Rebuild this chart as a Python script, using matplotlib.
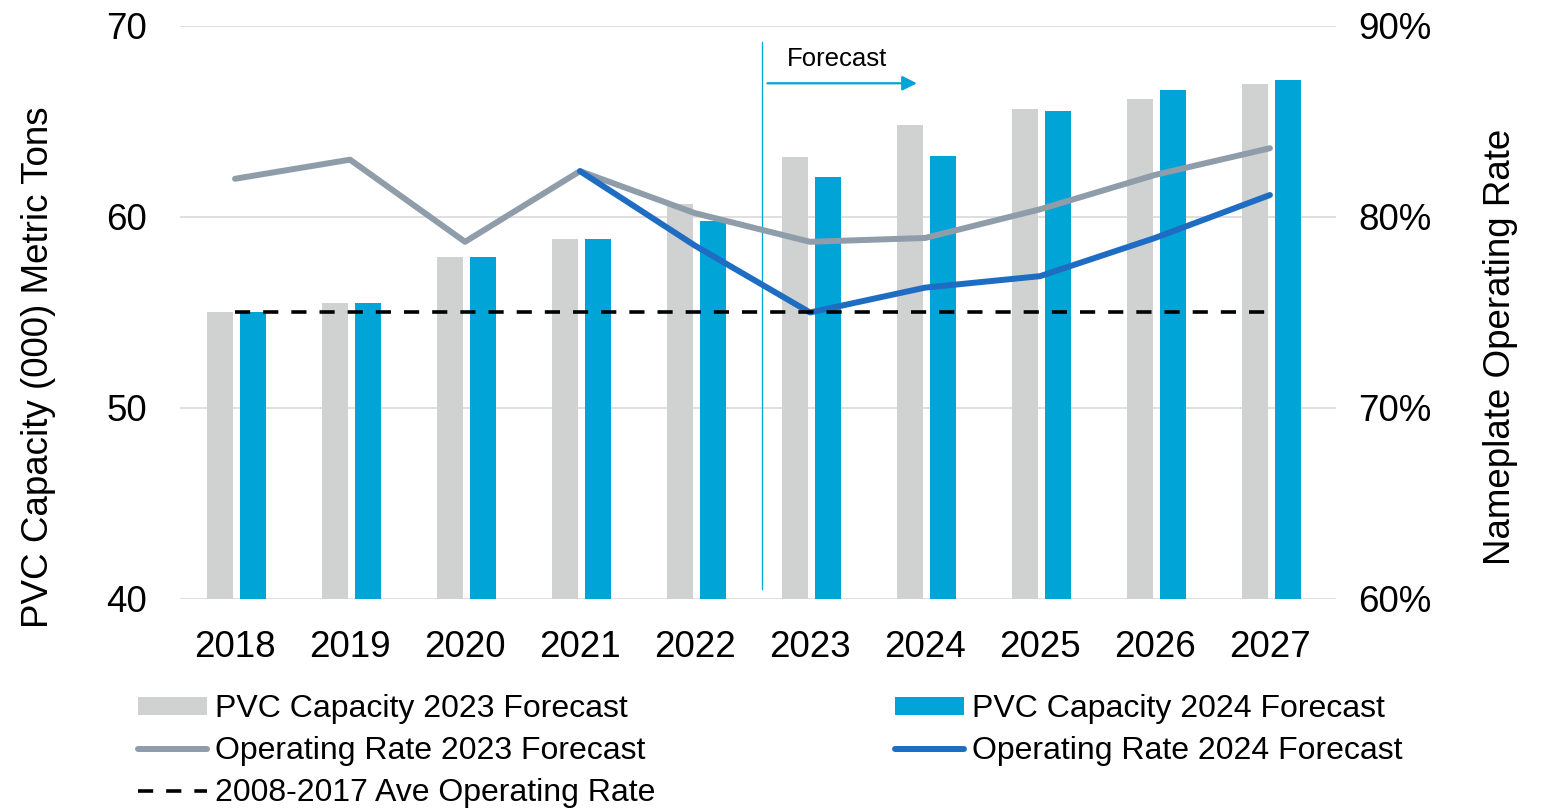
import numpy as np
import matplotlib.pyplot as plt

plt.rcParams["font.family"] = ["Liberation Sans", "DejaVu Sans"]

# Data
years = ["2018", "2019", "2020", "2021", "2022", "2023", "2024", "2025", "2026", "2027"]
capacity_2023 = [55.0, 55.5, 57.9, 58.85, 60.7, 63.15, 64.8, 65.65, 66.2, 66.95]
capacity_2024 = [55.0, 55.5, 57.9, 58.85, 59.8, 62.1, 63.2, 65.55, 66.65, 67.15]
rate_2023 = [82.0, 83.0, 78.7, 82.4, 80.2, 78.7, 78.9, 80.4, 82.2, 83.6]
rate_2024 = [np.nan, np.nan, np.nan, 82.4, 78.5, 75.0, 76.3, 76.9, 78.9, 81.15]
avg_rate = 75.0  # 2008-2017 average operating rate

left_ticks = [40, 50, 60, 70]
right_ticks = [60, 70, 80, 90]

# Colors
COLOR_GRAY_BAR = "#D0D1D1"
COLOR_BLUE_BAR = "#00A4D6"
COLOR_GRAY_LINE = "#8E9DA9"
COLOR_BLUE_LINE = "#1F6DC2"
COLOR_GRID = "#D9D9D9"

x = np.arange(len(years))
bar_w = 0.225
offset = 0.145

fig = plt.figure(figsize=(15.43, 8.09), dpi=100)
ax = fig.add_axes([0.1167, 0.2596, 0.7491, 0.7083])
ax2 = ax.twinx()

b1 = ax.bar(x - offset + 0.015, capacity_2023, width=bar_w, color=COLOR_GRAY_BAR,
            label="PVC Capacity 2023 Forecast")
b2 = ax.bar(x + offset + 0.015, capacity_2024, width=bar_w, color=COLOR_BLUE_BAR,
            label="PVC Capacity 2024 Forecast")

ax.set_ylim(40, 70)
ax.set_xlim(-0.478, 9.574)
ax.set_yticks(left_ticks)
ax.set_xticks(x)
ax.set_xticklabels(years)
ax.grid(axis="y", color=COLOR_GRID, linewidth=1.2)
ax.set_axisbelow(True)

# Forecast divider and arrow
ax.plot([4.583, 4.583], [40.5, 69.15], color=COLOR_BLUE_BAR, linewidth=0.9)
ax.annotate("", xy=(5.93, 67.0), xytext=(4.63, 67.0),
            arrowprops=dict(arrowstyle="-|>", color=COLOR_BLUE_BAR, lw=1.6,
                            mutation_scale=22, shrinkA=0, shrinkB=0))
ax.text(5.235, 68.27, "Forecast", fontsize=18.5, ha="center", va="center")

# Operating rate lines
l1, = ax2.plot(x, rate_2023, color=COLOR_GRAY_LINE, linewidth=4.3,
               solid_capstyle="round", solid_joinstyle="round",
               label="Operating Rate 2023 Forecast")
l2, = ax2.plot(x, rate_2024, color=COLOR_BLUE_LINE, linewidth=4.3,
               solid_capstyle="round", solid_joinstyle="round",
               label="Operating Rate 2024 Forecast")
l3, = ax2.plot(x, [avg_rate] * len(x), color="black", linewidth=2.6,
               linestyle=(0, (4.2, 3.6)), label="2008-2017 Ave Operating Rate")
ax2.set_ylim(60, 90)
ax2.set_yticks(right_ticks)
ax2.set_yticklabels([f"{t}%" for t in right_ticks])

for a in (ax, ax2):
    for s in a.spines.values():
        s.set_visible(False)
    a.tick_params(length=0, labelsize=26.5)
ax.tick_params(axis="y", pad=24)
ax.tick_params(axis="x", pad=22)
ax2.tick_params(axis="y", pad=16)

fig.text(39 / 1543, 1 - 367 / 809, "PVC Capacity (000) Metric Tons", rotation=90,
         fontsize=26.5, ha="center", va="center")
fig.text(1500 / 1543, 1 - 347 / 809, "Nameplate Operating Rate", rotation=90,
         fontsize=26.5, ha="center", va="center")

fig.legend([b1, l1, l3, b2, l2],
           [h.get_label() for h in (b1, l1, l3, b2, l2)],
           loc="upper left", bbox_to_anchor=(138 / 1543, 1 - 694 / 809),
           ncol=2, frameon=False, fontsize=23, borderpad=0, borderaxespad=0,
           handlelength=2.16, handleheight=0.5, handletextpad=0.25,
           labelspacing=0.38, columnspacing=7.5)

plt.savefig("out.png", dpi=100)
